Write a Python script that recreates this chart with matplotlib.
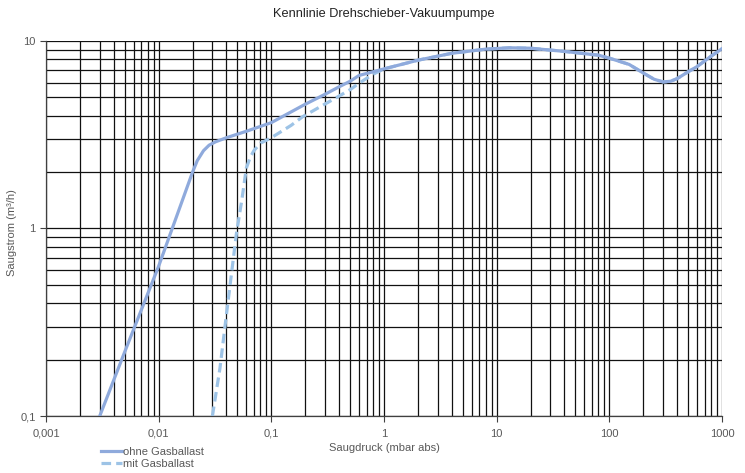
import matplotlib
matplotlib.use("Agg")
import matplotlib.pyplot as plt
from matplotlib.ticker import NullFormatter

plt.rcParams["font.family"] = ["Liberation Sans", "DejaVu Sans"]

TITLE = "Kennlinie Drehschieber-Vakuumpumpe"
X_LABEL = "Saugdruck (mbar abs)"
Y_LABEL = "Saugstrom (m³/h)"

# pressure (mbar abs) / flow (m3/h)
ohne_x = [0.003, 0.005, 0.01, 0.02, 0.022, 0.025, 0.028, 0.032, 0.04, 0.06, 0.1, 0.2, 0.3, 0.4, 0.5, 0.6,
          1, 2, 4, 8, 13, 20, 40, 80, 100, 150, 200, 250, 300, 350, 400, 500, 600, 800, 1000]
ohne_y = [0.1, 0.22, 0.63, 2.0, 2.3, 2.6, 2.78, 2.9, 3.05, 3.3, 3.67, 4.6, 5.2, 5.7, 6.1, 6.55,
          7.1, 7.9, 8.6, 9.05, 9.2, 9.15, 8.8, 8.4, 8.1, 7.5, 6.75, 6.25, 6.05, 6.1, 6.3, 6.85, 7.3, 8.3, 9.1]

mit_x = [0.03, 0.035, 0.04, 0.049, 0.055, 0.06, 0.065, 0.07, 0.08, 0.1, 0.15, 0.19, 0.38, 0.5, 0.6, 0.8,
         1, 2, 4, 8, 13, 20, 40, 80, 100, 150, 200, 250, 300, 350, 400, 500, 600, 800, 1000]
mit_y = [0.1, 0.18, 0.35, 0.94, 1.45, 2.1, 2.4, 2.6, 2.85, 3.05, 3.55, 3.95, 5.0, 5.5, 5.95, 6.65,
         7.1, 7.9, 8.6, 9.05, 9.2, 9.15, 8.8, 8.4, 8.1, 7.5, 6.75, 6.25, 6.05, 6.1, 6.3, 6.85, 7.3, 8.3, 9.1]

x_ticks = [0.001, 0.01, 0.1, 1, 10, 100, 1000]
x_tick_labels = ["0,001", "0,01", "0,1", "1", "10", "100", "1000"]
y_ticks = [0.1, 1, 10]
y_tick_labels = ["0,1", "1", "10"]

fig = plt.figure(figsize=(7.45, 4.73), dpi=100)
ax = fig.add_axes([46 / 745, 1 - 416 / 473, 676 / 745, 375 / 473])

ax.set_xscale("log")
ax.set_yscale("log")
ax.set_xlim(0.001, 1000)
ax.set_ylim(0.1, 10)

l_mit, = ax.plot(mit_x, mit_y, color="#9dc3e6", lw=2.3, ls=(0, (3, 1.6)),
                 solid_capstyle="butt", solid_joinstyle="round", zorder=3, label="mit Gasballast")
l_ohne, = ax.plot(ohne_x, ohne_y, color="#8faadc", lw=2.3, solid_joinstyle="round",
                  zorder=4, label="ohne Gasballast")

ax.grid(True, which="both", color="#111111", lw=0.9)
ax.set_axisbelow(True)

ax.set_xticks(x_ticks)
ax.set_xticklabels(x_tick_labels)
ax.set_yticks(y_ticks)
ax.set_yticklabels(y_tick_labels)
ax.xaxis.set_minor_formatter(NullFormatter())
ax.yaxis.set_minor_formatter(NullFormatter())
ax.tick_params(which="minor", length=0)
ax.tick_params(which="major", length=4, width=0.8, color="#404040",
               labelsize=8, labelcolor="#595959")
ax.tick_params(axis="x", pad=5)

for side in ["top", "right"]:
    ax.spines[side].set_visible(False)
for side in ["left", "bottom"]:
    ax.spines[side].set_color("#404040")
    ax.spines[side].set_linewidth(0.9)

ax.set_title(TITLE, fontsize=9.2, color="#222222", pad=17)
ax.set_xlabel(X_LABEL, fontsize=8, color="#595959", labelpad=3)
ax.set_ylabel(Y_LABEL, fontsize=8, color="#595959")
ax.yaxis.set_label_coords(-0.043, 0.49)

fig.legend(handles=[l_ohne, l_mit], loc="lower left", bbox_to_anchor=(0.125, -0.007),
           frameon=False, fontsize=8, labelcolor="#595959", handlelength=1.9,
           handletextpad=0.05, labelspacing=0.15, borderpad=0.2)

fig.savefig("out.png", dpi=100)
